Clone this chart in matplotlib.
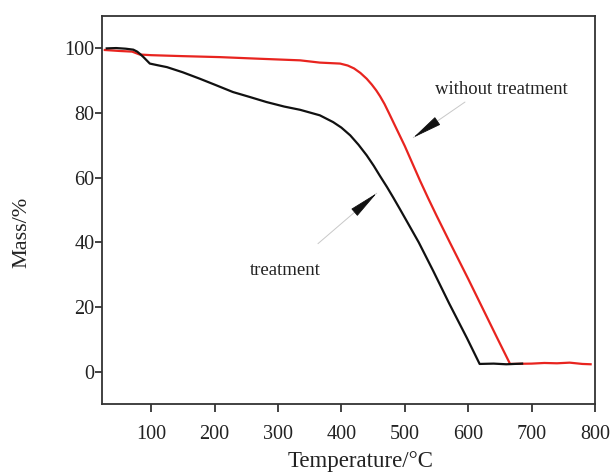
import matplotlib
matplotlib.use("Agg")
import matplotlib.pyplot as plt

# TG data: mass retained (%) vs temperature (°C)
temp_treated = [30, 45, 60, 72, 78, 83, 88, 92, 98, 110, 125, 150, 177, 200, 229,
                255, 282, 310, 335, 366, 387, 400, 414, 427, 440, 451, 461, 472,
                482, 492, 503, 522, 545, 570, 598, 618, 640, 660, 685]
mass_treated = [100.0, 100.1, 99.9, 99.6, 99.0, 98.2, 97.3, 96.5, 95.3, 94.8, 94.2,
                92.6, 90.6, 88.8, 86.5, 85.0, 83.4, 82.0, 81.0, 79.3, 77.2, 75.5,
                73.1, 70.2, 66.9, 63.7, 60.5, 57.1, 53.8, 50.4, 46.6, 40.0, 31.1,
                21.1, 10.4, 2.4, 2.5, 2.3, 2.5]

temp_untreated = [27, 50, 70, 82, 100, 150, 208, 270, 335, 366, 398, 410, 420, 430,
                  440, 448, 455, 461, 468, 475, 487, 500, 513, 524, 537, 550, 571,
                  600, 623, 645, 666, 700, 720, 740, 760, 780, 793]
mass_untreated = [99.5, 99.2, 99.0, 98.1, 97.9, 97.6, 97.3, 96.8, 96.3, 95.6, 95.3,
                  94.7, 93.8, 92.4, 90.6, 88.8, 87.0, 85.2, 82.8, 80.0, 75.1, 69.8,
                  64.0, 59.1, 53.6, 48.3, 40.0, 28.7, 19.5, 10.7, 2.4, 2.5, 2.7,
                  2.6, 2.8, 2.4, 2.3]

x_ticks = [100, 200, 300, 400, 500, 600, 700, 800]
y_ticks = [0, 20, 40, 60, 80, 100]

plt.rcParams["font.family"] = ["Liberation Serif", "DejaVu Serif"]

fig = plt.figure(figsize=(6.16, 4.72), dpi=100)
ax = fig.add_axes([0.1656, 0.144, 0.8004, 0.822])

ax.plot(temp_untreated, mass_untreated, color="#e8241f", lw=1.6)
ax.plot(temp_treated, mass_treated, color="#111111", lw=1.6)

ax.set_xlim(22.6, 800)
ax.set_ylim(-10, 110)
ax.set_xticks(x_ticks)
ax.set_yticks(y_ticks)
ax.tick_params(axis="x", direction="out", length=6, width=1.2, pad=9,
               labelsize=14.5, colors="#222222")
ax.tick_params(axis="y", direction="out", length=5, width=1.2, pad=0.5,
               labelsize=14.5, colors="#222222")
for sp in ax.spines.values():
    sp.set_linewidth(1.3)
    sp.set_color("#333333")

ax.set_xlabel("Temperature/\u00b0C", fontsize=16.5, color="#222222",
              labelpad=5, x=0.525)
ax.set_ylabel("Mass/%", fontsize=16, color="#222222", labelpad=24, y=0.443)


def pointer(ax, tail, tip, base_frac=0.3):
    # thin grey shaft with a narrow black head
    ax.annotate("", xy=tip, xytext=tail,
                arrowprops=dict(arrowstyle="-", color="#c8c8c8", lw=0.7,
                                shrinkA=0, shrinkB=0))
    base = (tip[0] + (tail[0] - tip[0]) * base_frac,
            tip[1] + (tail[1] - tip[1]) * base_frac)
    ax.annotate("", xy=tip, xytext=base,
                arrowprops=dict(arrowstyle="-|>,head_length=1.9,head_width=0.3",
                                color="#111111", lw=0.6, mutation_scale=10,
                                shrinkA=0, shrinkB=0))


pointer(ax, (594.9, 83.4), (513.4, 72.4))
pointer(ax, (363.1, 39.6), (455.7, 55.2))

ax.text(651.6, 87.2, "without treatment", fontsize=13.5, color="#222222",
        ha="center", va="center")
ax.text(311.1, 31.3, "treatment", fontsize=13.5, color="#222222",
        ha="center", va="center")

fig.savefig("out.png", dpi=100)
